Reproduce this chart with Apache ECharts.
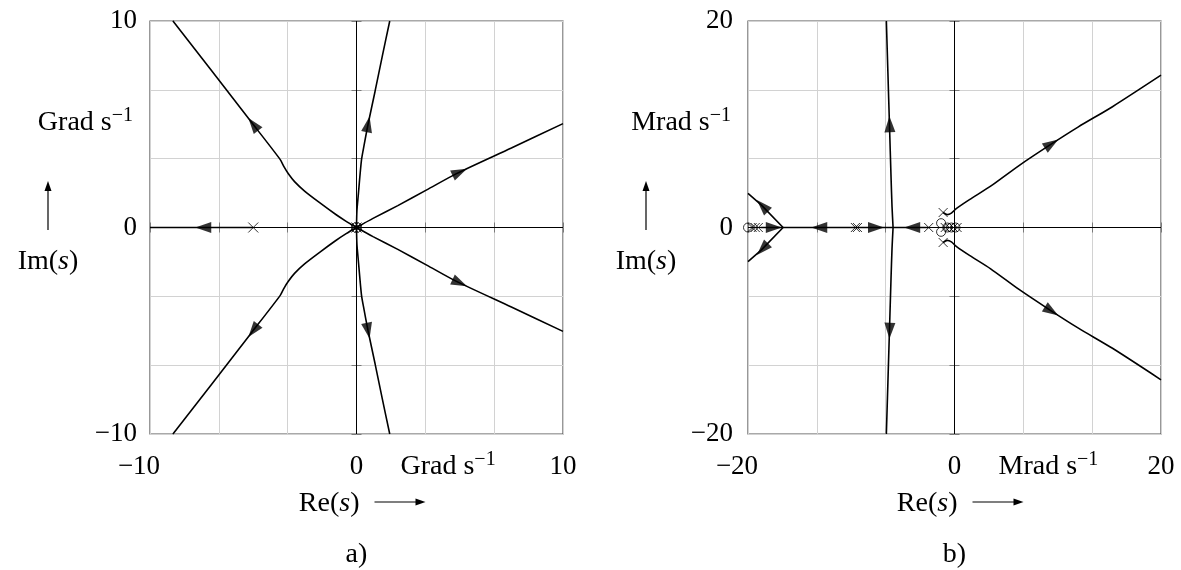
<!DOCTYPE html>
<html>
<head>
<meta charset="utf-8">
<script src="https://cdn.jsdelivr.net/npm/echarts@6/dist/echarts.min.js"></script>
<style>
  html, body { margin: 0; padding: 0; background: #fff; }
  #chart { width: 1181px; height: 570px; }
</style>
</head>
<body>
<div id="chart"></div>
<script>
// ---------- panel a) : root locus, axes in Grad/s ----------
const aRange = [-10, 10];
const aLabelTicks = [-10, 0, 10];
const aUnit = 'Grad s';
const aPoles = [[-5, 0], [-0.15, 0], [0, 0], [0.15, 0]];
const aZeros = [[0, 0]];
// branches, each listed in the direction of increasing gain
const aReal = [[-5, 0], [-10, 0]];
const aUpLeft = [[0, 0], [-0.5, 0.3], [-1, 0.63], [-1.77, 1.19], [-2.5, 1.75], [-3.0, 2.22], [-3.3, 2.6], [-3.5, 2.92], [-3.7, 3.3], [-5.16, 5.19], [-8.87, 9.98], [-8.9, 10]];
const aLowLeft = [[0, 0], [-0.5, -0.3], [-1, -0.63], [-1.77, -1.19], [-2.5, -1.75], [-3.0, -2.22], [-3.3, -2.6], [-3.5, -2.92], [-3.7, -3.3], [-5.16, -5.19], [-8.87, -9.98], [-8.9, -10]];
const aUpVert = [[0, 0], [0.02, 0.8], [0.08, 1.5], [0.24, 3.26], [0.37, 4.0], [0.56, 5.0], [0.9, 6.6], [1.25, 8.3], [1.61, 10]];
const aLowVert = [[0, 0], [0.02, -0.8], [0.08, -1.5], [0.24, -3.26], [0.37, -4.0], [0.56, -5.0], [0.9, -6.6], [1.25, -8.3], [1.61, -10]];
const aUpRight = [[0, 0], [0.8, 0.44], [2, 1.06], [3.4, 1.82], [4.84, 2.61], [7.5, 3.85], [10, 5.03]];
const aLowRight = [[0, 0], [0.8, -0.44], [2, -1.06], [3.4, -1.82], [4.84, -2.61], [7.5, -3.85], [10, -5.03]];
const aArrows = [
  [aReal, [-7.42, 0]],
  [aUpLeft, [-5.0, 5.0]], [aLowLeft, [-5.0, -5.0]],
  [aUpVert, [0.56, 5.0]], [aLowVert, [0.56, -5.0]],
  [aUpRight, [5.0, 2.68]], [aLowRight, [5.0, -2.68]]
];

// ---------- panel b) : root locus, axes in Mrad/s ----------
const bRange = [-20, 20];
const bLabelTicks = [-20, 0, 20];
const bUnit = 'Mrad s';
const bPoles = [[-19.6, 0], [-19.3, 0], [-19.0, 0], [-9.6, 0], [-9.4, 0], [-2.5, 0],
                [-1.1, 1.45], [-1.1, -1.45], [-0.9, 0], [-0.5, 0], [-0.1, 0], [0.25, 0]];
const bZeros = [[-20.0, 0], [-1.3, 0.42], [-1.3, -0.42], [-0.7, 0], [-0.3, 0], [0.1, 0]];
const bFarLeftIn = [[-18.8, 0], [-16.6, 0]];
const bMidLeft = [[-9.5, 0], [-16.6, 0]];
const bFarUp = [[-16.6, 0], [-18.7, 2.17], [-20, 3.3]];
const bFarDown = [[-16.6, 0], [-18.7, -2.17], [-20, -3.3]];
const bMidRight = [[-9.5, 0], [-5.95, 0]];
const bNearLeft = [[-2.5, 0], [-5.95, 0]];
const bVertUp = [[-5.95, 0], [-6.05, 2], [-6.15, 5], [-6.3, 10], [-6.45, 15], [-6.6, 20]];
const bVertDown = [[-5.95, 0], [-6.05, -2], [-6.15, -5], [-6.3, -10], [-6.45, -15], [-6.6, -20]];
const bUpRight = [[-1.1, 1.45], [-0.7, 1.25], [-0.3, 1.4], [0.2, 1.85], [1.45, 2.7], [3.5, 4.0], [6.25, 6.0], [9.25, 8.0], [12, 9.75], [15.3, 11.7], [20, 14.75]];
const bLowRight = [[-1.1, -1.45], [-0.7, -1.25], [-0.3, -1.4], [0.2, -1.85], [1.45, -2.7], [3.5, -4.0], [6.25, -6.0], [9.25, -8.0], [12, -9.75], [15.3, -11.7], [20, -14.75]];
const bArrows = [
  [bFarLeftIn, [-17.5, 0]], [bMidLeft, [-13.1, 0]],
  [bFarUp, [-18.6, 2.1]], [bFarDown, [-18.6, -2.1]],
  [bMidRight, [-7.6, 0]], [bNearLeft, [-4.1, 0]],
  [bVertUp, [-6.28, 10]], [bVertDown, [-6.28, -10]],
  [bUpRight, [9.4, 8.1]], [bLowRight, [9.4, -8.1]]
];

// ---------- layout and style ----------
const FONT = "'Liberation Serif','DejaVu Serif',serif";
const FS = 27;       // tick numbers
const FS_TXT = 28;   // axis names and panel tags
const PANELS = [
  { left: 150, top: 21, size: 413 },
  { left: 748, top: 21, size: 413 }
];
const GRID_DIV = 6;

const chart = echarts.init(document.getElementById('chart'), null, { renderer: 'canvas' });

function fmtNum(v) {
  return v < 0 ? '\u2212' + Math.abs(v) : String(v);
}

// direction of travel of a branch at point p, in degrees
function headingDeg(branch, p) {
  let best = 0, bd = Infinity;
  for (let i = 0; i < branch.length - 1; i++) {
    const a = branch[i], b = branch[i + 1];
    const dx = b[0] - a[0], dy = b[1] - a[1];
    const L = dx * dx + dy * dy || 1;
    let t = ((p[0] - a[0]) * dx + (p[1] - a[1]) * dy) / L;
    t = Math.max(0, Math.min(1, t));
    const qx = a[0] + t * dx - p[0], qy = a[1] + t * dy - p[1];
    const d = qx * qx + qy * qy;
    if (d < bd) { bd = d; best = i; }
  }
  const a = branch[best], b = branch[best + 1];
  return Math.atan2(b[1] - a[1], b[0] - a[0]) * 180 / Math.PI;
}

function axesFor(idx, range, labelTicks) {
  const interval = (range[1] - range[0]) / GRID_DIV;
  const base = {
    type: 'value', gridIndex: idx, min: range[0], max: range[1], interval: interval,
    axisLine: { show: false },
    axisTick: { show: true, inside: true, length: 5, lineStyle: { color: '#7a7a7a', width: 1 } }
  };
  const label = (margin, isX) => ({
    show: true, customValues: labelTicks, margin: margin,
    color: '#000', fontFamily: FONT, fontSize: FS, lineHeight: FS,
    formatter: (v) => {
      const s = fmtNum(Math.round(v));
      return (isX && Math.abs(v - range[0]) < 1e-9) ? '{lo|' + s + '}' : s;
    },
    rich: { lo: { fontFamily: FONT, fontSize: FS, lineHeight: FS, color: '#000', padding: [0, 22, 0, 0] } }
  });
  const grid = { show: true, lineStyle: { color: '#d2d2d2', width: 1 } };
  return {
    x: [
      Object.assign({}, base, { position: 'bottom', splitLine: grid, axisLabel: label(19.5, true) }),
      Object.assign({}, base, { position: 'top', splitLine: { show: false }, axisLabel: { show: false } })
    ],
    y: [
      Object.assign({}, base, { position: 'left', splitLine: grid, axisLabel: label(idx === 0 ? 13 : 15, false) }),
      Object.assign({}, base, { position: 'right', splitLine: { show: false }, axisLabel: { show: false } })
    ]
  };
}

const axA = axesFor(0, aRange, aLabelTicks);
const axB = axesFor(1, bRange, bLabelTicks);

function lineSeries(data, axisIdx, width, z, smooth) {
  return {
    type: 'line', xAxisIndex: axisIdx, yAxisIndex: axisIdx, data: data,
    showSymbol: false, symbol: 'none', silent: true, clip: true, z: z,
    smooth: smooth || false,
    lineStyle: { color: '#000', width: width }
  };
}

const CROSS = 'path://M0,0L10,10M10,0L0,10';

function panelSeries(axisIdx, range, branches, poles, zeros, arrows, markSize) {
  const out = [];
  // zero lines of the complex plane
  out.push(lineSeries([[range[0], 0], [range[1], 0]], axisIdx, 1, 1));
  out.push(lineSeries([[0, range[0]], [0, range[1]]], axisIdx, 1, 1));
  branches.forEach(b => out.push(lineSeries(b, axisIdx, 1.6, 2, b.length > 3 ? 0.25 : false)));
  out.push({
    type: 'scatter', xAxisIndex: axisIdx, yAxisIndex: axisIdx, data: poles, silent: true, clip: true, z: 3,
    symbol: CROSS, symbolSize: markSize,
    itemStyle: { color: 'rgba(0,0,0,0)', borderColor: '#000', borderWidth: 1 }
  });
  out.push({
    type: 'scatter', xAxisIndex: axisIdx, yAxisIndex: axisIdx, data: zeros, silent: true, clip: true, z: 3,
    symbol: 'circle', symbolSize: markSize,
    itemStyle: { color: 'rgba(0,0,0,0)', borderColor: '#000', borderWidth: 1 }
  });
  out.push({
    type: 'scatter', xAxisIndex: axisIdx, yAxisIndex: axisIdx, silent: true, clip: true, z: 4,
    symbol: 'triangle', symbolSize: [11, 16],
    itemStyle: { color: '#000' },
    data: arrows.map(([br, p]) => ({ value: p, symbolRotate: headingDeg(br, p) - 90 }))
  });
  return out;
}

// panel b uses axis index 2 (bottom/left) of the combined axis lists
const series = [].concat(
  panelSeries(0, aRange, [aReal, aUpLeft, aLowLeft, aUpVert, aLowVert, aUpRight, aLowRight],
              aPoles, aZeros, aArrows, 10),
  panelSeries(2, bRange, [bFarLeftIn, bMidLeft, bFarUp, bFarDown, bMidRight, bNearLeft, bVertUp, bVertDown, bUpRight, bLowRight],
              bPoles, bZeros, bArrows, 9)
);
const xAxes = [axA.x[0], axA.x[1], axB.x[0], axB.x[1]];
const yAxes = [axA.y[0], axA.y[1], axB.y[0], axB.y[1]];

// ---------- axis names, arrows and panel tags ----------
const richTxt = {
  r: { fontFamily: FONT, fontSize: FS_TXT, lineHeight: 34, fill: '#000', color: '#000' },
  i: { fontFamily: FONT, fontSize: FS_TXT, lineHeight: 34, fontStyle: 'italic', fill: '#000', color: '#000' },
  s: { fontFamily: FONT, fontSize: 20, lineHeight: 34, verticalAlign: 'top', fill: '#000', color: '#000' }
};
function txt(text, x, y, align) {
  return { type: 'text', x: x, y: y, silent: true, z: 10,
    style: { text: text, rich: richTxt, align: align, verticalAlign: 'middle', fill: '#000',
             fontFamily: FONT, fontSize: FS_TXT } };
}
function arrowUp(x, yBottom, yTip) {
  return [
    { type: 'line', silent: true, shape: { x1: x, y1: yBottom, x2: x, y2: yTip + 8 }, style: { stroke: '#000', lineWidth: 1.2 } },
    { type: 'polygon', silent: true, shape: { points: [[x, yTip], [x - 3.5, yTip + 10], [x + 3.5, yTip + 10]] }, style: { fill: '#000' } }
  ];
}
function arrowRight(xStart, xTip, y) {
  return [
    { type: 'line', silent: true, shape: { x1: xStart, y1: y, x2: xTip - 8, y2: y }, style: { stroke: '#000', lineWidth: 1.2 } },
    { type: 'polygon', silent: true, shape: { points: [[xTip, y], [xTip - 10, y - 3.5], [xTip - 10, y + 3.5]] }, style: { fill: '#000' } }
  ];
}
const tags = ['a)', 'b)'];
const units = [aUnit, bUnit];
let graphics = [];
PANELS.forEach((g, k) => {
  const x0 = g.left + g.size / 2;
  const yBase = g.top + g.size;
  graphics.push(txt('{r|' + units[k] + '}{s|\u22121}', g.left - 17, 123, 'right'));
  graphics = graphics.concat(arrowUp(g.left - 102, 230, 181));
  graphics.push(txt('{r|Im(}{i|s}{r|)}', g.left - 102, 262, 'center'));
  graphics.push(txt('{r|' + units[k] + '}{s|\u22121}', x0 + 44, yBase + 33, 'left'));
  graphics.push(txt('{r|Re(}{i|s}{r|)}', x0 + 3, yBase + 70, 'right'));
  graphics = graphics.concat(arrowRight(x0 + 18, x0 + 69, yBase + 68));
  graphics.push(txt('{r|' + tags[k] + '}', x0, yBase + 121, 'center'));
});

chart.setOption({
  animation: false,
  backgroundColor: '#fff',
  grid: PANELS.map(g => ({
    left: g.left, top: g.top, width: g.size, height: g.size,
    show: true, borderColor: '#555', borderWidth: 1.2, backgroundColor: 'transparent',
    containLabel: false, outerBoundsMode: 'none'
  })),
  xAxis: xAxes,
  yAxis: yAxes,
  series: series,
  graphic: graphics
});
</script>
</body>
</html>
